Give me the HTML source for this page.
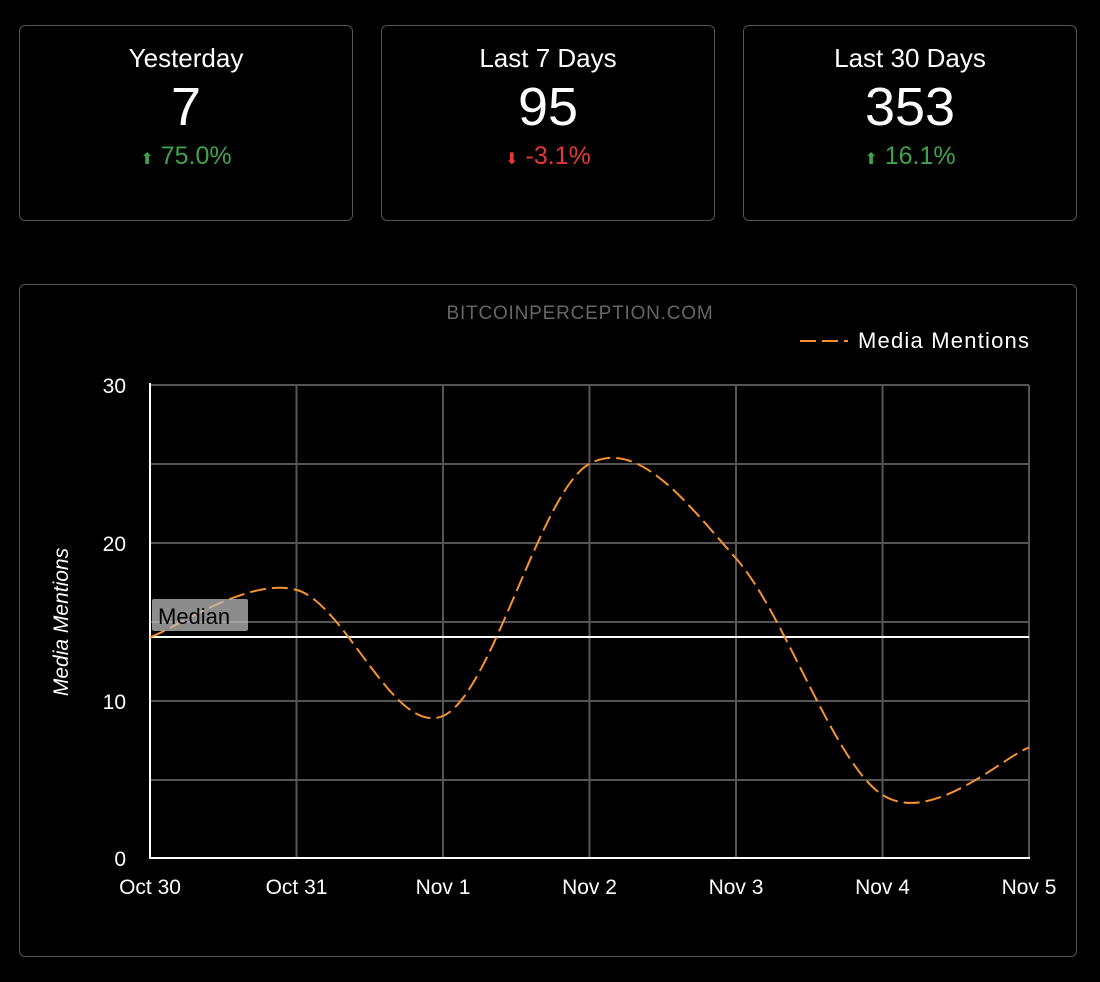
<!DOCTYPE html>
<html><head><meta charset="utf-8"><style>
body{margin:0;background:#000;width:1100px;height:982px;overflow:hidden;font-family:"Liberation Sans",sans-serif;color:#fff}
.card{position:absolute;top:25px;width:332px;height:194px;border:1.5px solid #555;border-radius:6px;text-align:center}
.t{position:absolute;top:17px;width:100%;font-size:26px}
.v{position:absolute;top:50px;width:100%;font-size:54px}
.p{position:absolute;top:116px;width:100%;font-size:25px}
.g{color:#3fa34d}.r{color:#e53935}
.box{position:absolute;left:19px;top:284px;width:1056px;height:671px;border:1.5px solid #555;border-radius:6px}
</style></head><body>
<div class="card" style="left:19px"><div class="t">Yesterday</div><div class="v">7</div><div class="p g"><span style="font-size:16px">⬆</span> 75.0%</div></div>
<div class="card" style="left:381px"><div class="t">Last 7 Days</div><div class="v">95</div><div class="p r"><span style="font-size:16px">⬇</span> -3.1%</div></div>
<div class="card" style="left:743px"><div class="t">Last 30 Days</div><div class="v">353</div><div class="p g"><span style="font-size:16px">⬆</span> 16.1%</div></div>
<div class="box"></div>
<svg width="1100" height="982" style="position:absolute;left:0;top:0" font-family="Liberation Sans, sans-serif">
<text x="580" y="319" fill="#666" font-size="19" text-anchor="middle" letter-spacing="0.8">BITCOINPERCEPTION.COM</text>
<line x1="800" y1="341" x2="848" y2="341" stroke="#f59331" stroke-width="2" stroke-dasharray="16,6"/>
<text x="858" y="348" fill="#fff" font-size="22" textLength="171">Media Mentions</text>
<g stroke="#555" stroke-width="2">
<line x1="150" y1="385" x2="1029" y2="385"/><line x1="150" y1="464" x2="1029" y2="464"/><line x1="150" y1="543" x2="1029" y2="543"/><line x1="150" y1="622" x2="1029" y2="622"/><line x1="150" y1="701" x2="1029" y2="701"/><line x1="150" y1="780" x2="1029" y2="780"/>
<line x1="296.5" y1="385" x2="296.5" y2="858"/><line x1="443" y1="385" x2="443" y2="858"/><line x1="589.5" y1="385" x2="589.5" y2="858"/><line x1="736" y1="385" x2="736" y2="858"/><line x1="882.5" y1="385" x2="882.5" y2="858"/><line x1="1029" y1="385" x2="1029" y2="858"/>
</g>
<line x1="150" y1="383" x2="150" y2="859" stroke="#fff" stroke-width="2"/>
<line x1="149" y1="858" x2="1030" y2="858" stroke="#fff" stroke-width="2"/>
<line x1="150" y1="637" x2="1029" y2="637" stroke="#fff" stroke-width="2"/>
<path d="M150,637.2 C174.4,629.3 247.7,576.8 296.5,589.9 C345.3,603 394.2,737 443,716 C491.8,695 540.7,490.1 589.5,463.8 C638.3,437.5 687.2,503.2 736,558.4 C784.8,613.6 833.7,763.4 882.5,794.9 C931.3,826.4 1004.6,755.5 1029,747.6" fill="none" stroke="#f59331" stroke-width="2" stroke-dasharray="16,6"/>
<rect x="152" y="599" width="96" height="32" rx="2" fill="#bbb" fill-opacity="0.75"/>
<text x="158" y="624" fill="#000" font-size="22">Median</text>
<g fill="#fff" font-size="21" text-anchor="end">
<text x="126" y="393">30</text><text x="126" y="551">20</text><text x="126" y="709">10</text><text x="126" y="866">0</text></g>
<g fill="#fff" font-size="21" text-anchor="middle">
<text x="150" y="894">Oct 30</text><text x="296.5" y="894">Oct 31</text><text x="443" y="894">Nov 1</text><text x="589.5" y="894">Nov 2</text><text x="736" y="894">Nov 3</text><text x="882.5" y="894">Nov 4</text><text x="1029" y="894">Nov 5</text></g>
<text transform="translate(68,622) rotate(-90)" fill="#fff" font-size="21" font-style="italic" text-anchor="middle">Media Mentions</text>
</svg>
</body></html>
